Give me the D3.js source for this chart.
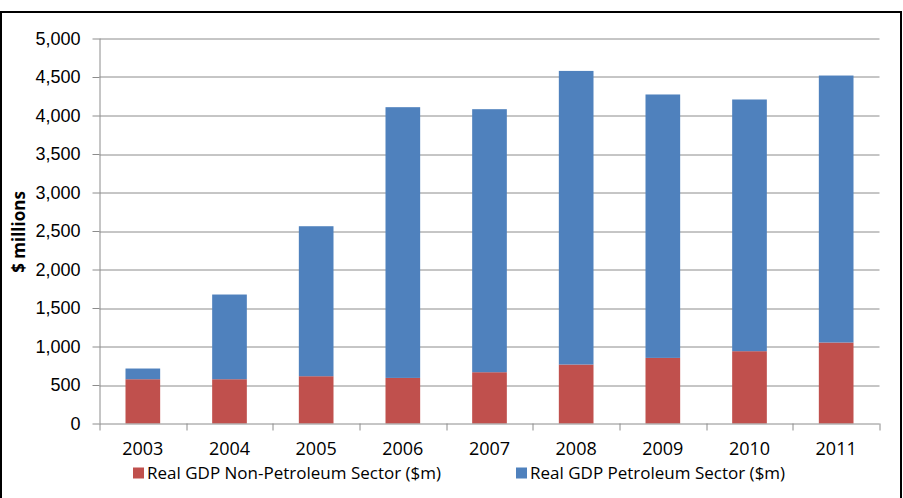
<!DOCTYPE html>
<html>
<head>
<meta charset="utf-8">
<script src="https://cdn.jsdelivr.net/npm/d3@7"></script>
<style>
  body { margin: 0; background: #fff; }
  svg { display: block; font-family: "Open Sans", Lato, sans-serif; }
</style>
</head>
<body>
<svg width="903" height="498"></svg>
<script>
// data ($ millions)
var years = ["2003", "2004", "2005", "2006", "2007", "2008", "2009", "2010", "2011"]
var nonPetroleum = [575, 575, 614, 592, 666, 766, 852, 939, 1052]
var petroleum = [139, 1100, 1948, 3516, 3416, 3813, 3421, 3269, 3467]
var yTicks = [0, 500, 1000, 1500, 2000, 2500, 3000, 3500, 4000, 4500, 5000]
var seriesNames = ["Real GDP Non-Petroleum Sector ($m)", "Real GDP Petroleum Sector ($m)"]
var colors = ["#C0504D", "#4F81BD"]

var svg = d3.select("svg"),
    margin = {top: 38.5, right: 23.5, bottom: 74.5, left: 99.5},
    width = 903 - margin.left - margin.right,
    height = 498 - margin.top - margin.bottom

// chart frame
svg.append("rect")
  .attr("x", 1).attr("y", 12)
  .attr("width", 900).attr("height", 520)
  .attr("fill", "none").attr("stroke", "#000").attr("stroke-width", 2)

var g = svg.append("g").attr("transform", "translate(" + margin.left + "," + margin.top + ")")

var x = d3.scaleBand().domain(years).range([0, width]).paddingInner(0.6).paddingOuter(0.3)
var y = d3.scaleLinear().domain([0, 5000]).range([height, 0])

// gridlines
g.selectAll(".grid").data(yTicks.slice(1)).enter().append("line")
  .attr("x1", 0).attr("x2", width)
  .attr("y1", function(d) { return Math.round(y(d)) + 0.5 })
  .attr("y2", function(d) { return Math.round(y(d)) + 0.5 })
  .attr("stroke", "#8c8c8c").attr("stroke-width", 1)

var stack = years.map(function(yr, i) {
  return {year: yr, parts: [[0, nonPetroleum[i]], [nonPetroleum[i], nonPetroleum[i] + petroleum[i]]]}
})

// bars
stack.forEach(function(d) {
  d.parts.forEach(function(p, k) {
    g.append("rect")
      .attr("x", x(d.year))
      .attr("width", x.bandwidth())
      .attr("y", y(p[1]))
      .attr("height", y(p[0]) - y(p[1]))
      .attr("fill", colors[k])
  })
})

// y axis
var yAxis = g.append("g").call(d3.axisLeft(y).tickValues(yTicks).tickSize(7).tickPadding(12)
  .tickFormat(d3.format(",")))
yAxis.select(".domain").attr("stroke", "#8c8c8c").attr("d", "M0.5," + height + "V0")
yAxis.selectAll(".tick line").attr("stroke", "#8c8c8c")
yAxis.selectAll("text").attr("font-size", 18).attr("fill", "#000")

// x axis with ticks at category boundaries
var xg = g.append("g").attr("transform", "translate(0," + height + ")")
xg.append("line").attr("x1", 0).attr("x2", width).attr("y1", 0.5).attr("y2", 0.5).attr("stroke", "#8c8c8c")
d3.range(years.length + 1).forEach(function(i) {
  var xx = Math.round(i * x.step()) + 0.5
  xg.append("line").attr("x1", xx).attr("x2", xx).attr("y1", 0).attr("y2", 7).attr("stroke", "#8c8c8c")
})
xg.selectAll(".lbl").data(years).enter().append("text")
  .attr("x", function(d) { return x(d) + x.bandwidth() / 2 })
  .attr("y", 31.5)
  .attr("text-anchor", "middle")
  .attr("font-size", 18)
  .text(function(d) { return d })

// y label
svg.append("text")
  .attr("transform", "translate(25,232) rotate(-90)")
  .attr("text-anchor", "middle")
  .attr("font-size", 17).attr("font-weight", "bold")
  .text("$ millions")

// legend
var legX = [133, 516]
seriesNames.forEach(function(name, k) {
  svg.append("rect").attr("x", legX[k]).attr("y", 467.5).attr("width", 11).attr("height", 11).attr("fill", colors[k])
  svg.append("text").attr("x", legX[k] + 14).attr("y", 478.5).attr("font-size", 17).text(name)
})
</script>
</body>
</html>
